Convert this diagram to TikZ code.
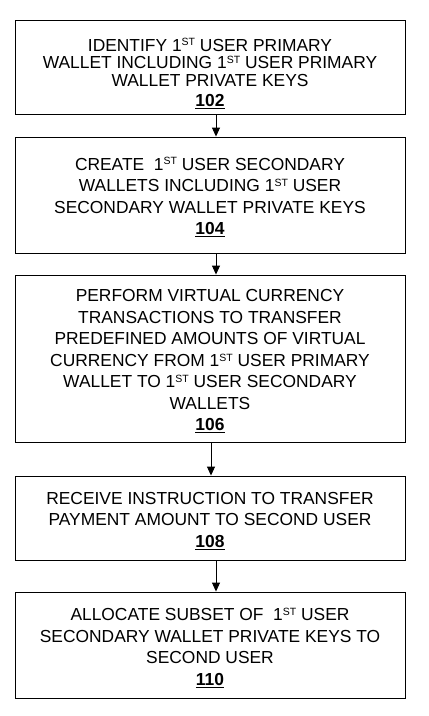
\documentclass[tikz,border=0pt]{standalone}
\usepackage{fontspec}
\setmainfont{Liberation Sans}
\usetikzlibrary{arrows.meta}

\newcommand{\st}{\raisebox{5.2pt}{\fontsize{10.5}{10.5}\selectfont ST}}
\newcommand{\stepnum}[1]{\textbf{\underline{#1}}}
\newcommand{\topgap}[1]{\rule{0pt}{#1}}

\begin{document}
\begin{tikzpicture}[x=1pt,y=1pt,
        stepbox/.style={draw,line width=0.9pt,minimum width=390pt,align=center,
                        font=\fontsize{17.4}{21.5}\selectfont,inner sep=0pt},
        flow/.style={line width=0.9pt,arrows = -{Triangle[length=9pt,width=8pt]}}]

            \useasboundingbox (0,0) rectangle (429,-716);

            \path   (210,-67)  node (a) [stepbox,minimum height=94pt,font=\fontsize{17.4}{17.5}\selectfont]
                        {\topgap{26pt}IDENTIFY 1\st{} USER PRIMARY\\WALLET INCLUDING 1\st{} USER PRIMARY\\WALLET PRIVATE KEYS\\[3pt]\stepnum{102}}
                    (210,-195) node (b) [stepbox,minimum height=116pt]
                        {\topgap{17pt}CREATE\ \ 1\st{} USER SECONDARY\\WALLETS INCLUDING 1\st{} USER\\SECONDARY WALLET PRIVATE KEYS\\\stepnum{104}}
                    (210,-358.5) node (c) [stepbox,minimum height=167pt]
                        {\topgap{18pt}PERFORM VIRTUAL CURRENCY\\TRANSACTIONS TO TRANSFER\\PREDEFINED AMOUNTS OF VIRTUAL\\CURRENCY FROM 1\st{} USER PRIMARY\\WALLET TO 1\st{} USER SECONDARY\\WALLETS\\\stepnum{106}}
                    (210,-518) node (d) [stepbox,minimum height=84pt]
                        {\topgap{18pt}RECEIVE INSTRUCTION TO TRANSFER\\PAYMENT AMOUNT TO SECOND USER\\\stepnum{108}}
                    (210,-645) node (e) [stepbox,minimum height=106pt]
                        {\topgap{18pt}ALLOCATE SUBSET OF\ \ 1\st{} USER\\SECONDARY WALLET PRIVATE KEYS TO\\SECOND USER\\\stepnum{110}};

            \draw[flow] ([xshift=6pt]a.south) -- ([xshift=6pt]b.north);
            \draw[flow] ([xshift=6pt]b.south) -- ([xshift=6pt]c.north);
            \draw[flow] ([xshift=1pt]c.south) -- ([xshift=1pt]d.north);
            \draw[flow] ([xshift=6pt]d.south) -- ([xshift=6pt]e.north);
        \end{tikzpicture}
\end{document}
